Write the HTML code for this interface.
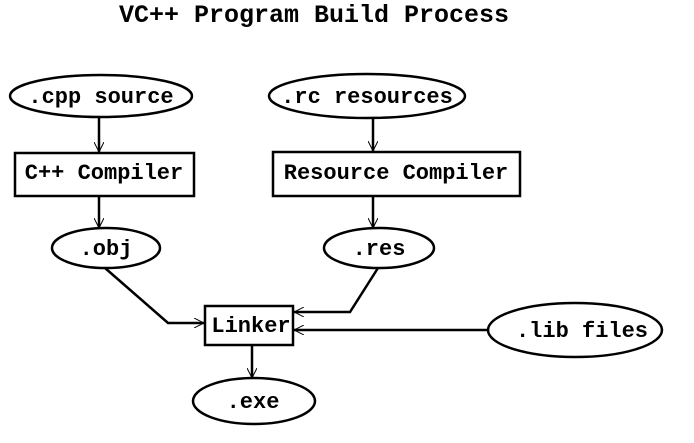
<!DOCTYPE html>
<html><head><style>body{margin:0;background:#fff}svg{display:block}</style></head><body>
<svg width="694" height="443" viewBox="0 0 694 443" xmlns="http://www.w3.org/2000/svg">
<defs><marker id="a" viewBox="0 0 10 10" refX="10" refY="5" markerWidth="10" markerHeight="10" markerUnits="userSpaceOnUse" orient="auto"><path d="M0,0 L10,5 L0,10" fill="none" stroke="#000" stroke-width="1"/></marker></defs>
<g font-family="Liberation Mono, monospace" font-weight="bold" text-anchor="middle">
<text x="314" y="22" font-size="25">VC++ Program Build Process</text>
<g fill="none" stroke="#000" stroke-width="2.5">
<ellipse cx="101" cy="96" rx="91" ry="21"/>
<rect x="15" y="153" width="179" height="43"/>
<ellipse cx="106" cy="248" rx="54" ry="20"/>
<ellipse cx="367" cy="96" rx="98" ry="22"/>
<rect x="273" y="152" width="247" height="44"/>
<ellipse cx="379" cy="248" rx="55" ry="20"/>
<rect x="205" y="306" width="88" height="39"/>
<ellipse cx="575" cy="330" rx="87" ry="27"/>
<ellipse cx="254" cy="401" rx="61" ry="23"/>
</g>
<g fill="none" stroke="#000" stroke-width="2.5" marker-end="url(#a)">
<line x1="99" y1="118" x2="99" y2="152"/>
<line x1="99" y1="196" x2="99" y2="228"/>
<line x1="373" y1="118" x2="373" y2="151"/>
<line x1="373" y1="196" x2="373" y2="228"/>
<polyline points="105,268 168,323 204,323"/>
<polyline points="378,268 350,312 294,312"/>
<line x1="488" y1="330" x2="294" y2="330"/>
<line x1="252" y1="345" x2="252" y2="378"/>
</g>
<g font-size="22">
<text x="101" y="103">.cpp source</text>
<text x="104" y="179">C++ Compiler</text>
<text x="106" y="255">.obj</text>
<text x="367" y="103">.rc resources</text>
<text x="396" y="179">Resource Compiler</text>
<text x="379" y="255">.res</text>
<text x="251" y="332">Linker</text>
<text x="582" y="337">.lib files</text>
<text x="253" y="408">.exe</text>
</g>
</g>
</svg>
</body></html>
